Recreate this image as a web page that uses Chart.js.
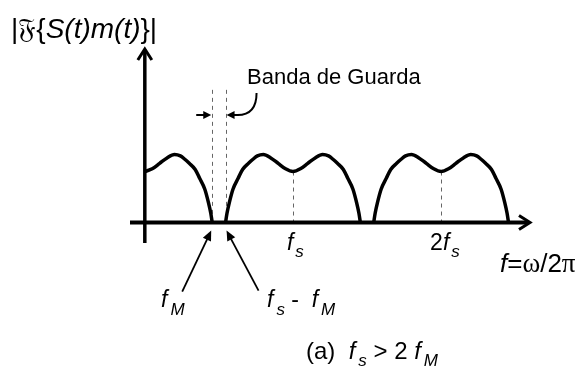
<!DOCTYPE html>
<html>
<head>
<meta charset="utf-8">
<script src="https://cdn.jsdelivr.net/npm/chart.js@4.4.1/dist/chart.umd.min.js"></script>
<style>
  html, body { margin: 0; padding: 0; background: #fff; }
  #wrap { width: 587px; height: 378px; }
</style>
</head>
<body>
<div id="wrap"><canvas id="espectro"></canvas></div>
<script>
// frequencias em unidades do eixo (fs = 10)
const fs = 10;
const fM = 4.55;
const centrosLobulos = [0, fs, 2 * fs];
// meio lobulo: distancia ao centro e altura
const lobuloOffsets = [0, 0.5, 1.0, 1.5, 2.0, 2.4, 2.7, 3.0, 3.4, 3.7, 4.05, 4.3, 4.45, 4.55];
const lobuloValores = [0.75, 0.79, 0.87, 0.95, 1.0, 0.98, 0.93, 0.87, 0.78, 0.65, 0.49, 0.29, 0.14, 0];
const eixoX = [-1, 26];
const eixoY = [-0.3, 2.55];
const alturaGuarda = 1.95;

function pontosLobulo(c) {
  const pts = [];
  if (c > 0) {
    for (let i = lobuloOffsets.length - 1; i > 0; i--) {
      pts.push({ x: c - lobuloOffsets[i], y: lobuloValores[i] });
    }
  }
  for (let i = 0; i < lobuloOffsets.length; i++) {
    pts.push({ x: c + lobuloOffsets[i], y: lobuloValores[i] });
  }
  return pts;
}

function textoRico(ctx, x, y, partes) {
  for (const p of partes) {
    ctx.font = (p.i ? 'italic ' : '') + p.s + 'px ' + (p.serif ? '"Liberation Serif", serif' : '"Liberation Sans", Arial, sans-serif');
    ctx.fillText(p.t, x, y + (p.dy || 0));
    x += ctx.measureText(p.t).width + (p.gap || 0);
  }
}

function seta(ctx, x0, y0, x1, y1, tam, larg) {
  const ang = Math.atan2(y1 - y0, x1 - x0);
  ctx.beginPath();
  ctx.moveTo(x0, y0);
  ctx.lineTo(x1 - Math.cos(ang) * tam * 0.8, y1 - Math.sin(ang) * tam * 0.8);
  ctx.stroke();
  ctx.beginPath();
  ctx.moveTo(x1, y1);
  ctx.lineTo(x1 - Math.cos(ang) * tam - Math.sin(ang) * larg, y1 - Math.sin(ang) * tam + Math.cos(ang) * larg);
  ctx.lineTo(x1 - Math.cos(ang) * tam + Math.sin(ang) * larg, y1 - Math.sin(ang) * tam - Math.cos(ang) * larg);
  ctx.closePath();
  ctx.fill();
}

const desenhos = {
  id: 'desenhos',
  beforeDatasetsDraw(chart) {
    const ctx = chart.ctx;
    const sx = chart.scales.x, sy = chart.scales.y;
    ctx.save();
    ctx.strokeStyle = '#666';
    ctx.lineWidth = 1;
    ctx.setLineDash([4, 4]);
    [fM, fs - fM].forEach(f => {
      ctx.beginPath();
      ctx.moveTo(Math.round(sx.getPixelForValue(f)) + 0.5, sy.getPixelForValue(alturaGuarda));
      ctx.lineTo(Math.round(sx.getPixelForValue(f)) + 0.5, sy.getPixelForValue(0));
      ctx.stroke();
    });
    [fs, 2 * fs].forEach(f => {
      ctx.beginPath();
      ctx.moveTo(Math.round(sx.getPixelForValue(f)) + 0.5, sy.getPixelForValue(lobuloValores[0]));
      ctx.lineTo(Math.round(sx.getPixelForValue(f)) + 0.5, sy.getPixelForValue(0));
      ctx.stroke();
    });
    ctx.restore();
  },
  afterDatasetsDraw(chart) {
    const ctx = chart.ctx;
    const sx = chart.scales.x, sy = chart.scales.y;
    const x0 = sx.getPixelForValue(0), y0 = sy.getPixelForValue(0);
    const xFim = sx.getPixelForValue(eixoX[1]), yTopo = sy.getPixelForValue(eixoY[1]);
    ctx.save();
    ctx.strokeStyle = '#000';
    ctx.fillStyle = '#000';
    ctx.lineCap = 'butt';

    // eixos
    ctx.lineWidth = 4;
    ctx.beginPath();
    ctx.moveTo(sx.getPixelForValue(eixoX[0]), y0);
    ctx.lineTo(xFim - 1, y0);
    ctx.stroke();
    ctx.lineWidth = 3.5;
    ctx.beginPath();
    ctx.moveTo(x0, sy.getPixelForValue(eixoY[0]));
    ctx.lineTo(x0, yTopo + 1);
    ctx.stroke();
    ctx.lineWidth = 3;
    ctx.lineJoin = 'miter';
    ctx.beginPath();
    ctx.moveTo(xFim - 11, y0 - 7);
    ctx.lineTo(xFim, y0);
    ctx.lineTo(xFim - 11, y0 + 7);
    ctx.stroke();
    ctx.beginPath();
    ctx.moveTo(x0 - 7, yTopo + 11);
    ctx.lineTo(x0, yTopo);
    ctx.lineTo(x0 + 7, yTopo + 11);
    ctx.stroke();

    // banda de guarda
    const xg1 = sx.getPixelForValue(fM), xg2 = sx.getPixelForValue(fs - fM);
    const yg = 115;
    ctx.lineWidth = 2;
    seta(ctx, xg1 - 16, yg, xg1 - 1, yg, 8, 4);
    ctx.beginPath();
    ctx.moveTo(xg2 + 31, yg - 22);
    ctx.quadraticCurveTo(xg2 + 31, yg, xg2 + 12, yg);
    ctx.stroke();
    seta(ctx, xg2 + 13, yg, xg2 + 1, yg, 8, 4);

    // setas para fM e fs - fM
    ctx.lineWidth = 1.8;
    seta(ctx, xg1 - 30, y0 + 69, xg1 - 1, y0 + 8, 10, 4.5);
    seta(ctx, xg2 + 33, y0 + 68, xg2 + 1, y0 + 8, 10, 4.5);

    // textos
    ctx.textBaseline = 'alphabetic';
    textoRico(ctx, 11, 38, [
      { t: '|', s: 28 }, { t: '\u{1D509}', s: 28 }, { t: '{', s: 28 },
      { t: 'S(t)m(t)', s: 28, i: true }, { t: '}|', s: 28 }
    ]);
    textoRico(ctx, 247, 84, [{ t: 'Banda de Guarda', s: 22 }]);

    const xfs = sx.getPixelForValue(fs), x2fs = sx.getPixelForValue(2 * fs);
    textoRico(ctx, xfs - 6, y0 + 27, [{ t: 'f', s: 23, i: true, gap: 2 }, { t: 's', s: 17, i: true, dy: 7 }]);
    textoRico(ctx, x2fs - 11, y0 + 27, [{ t: '2', s: 23 }, { t: 'f', s: 23, i: true, gap: 2 }, { t: 's', s: 17, i: true, dy: 7 }]);
    textoRico(ctx, 500, 272, [
      { t: 'f', s: 26, i: true }, { t: '=', s: 26 }, { t: 'ω', s: 27, serif: true },
      { t: '/2', s: 26 }, { t: 'π', s: 27, serif: true }
    ]);
    textoRico(ctx, 161, 307, [{ t: 'f', s: 23, i: true, gap: 3 }, { t: 'M', s: 17, i: true, dy: 8 }]);
    textoRico(ctx, 267, 307, [
      { t: 'f', s: 23, i: true, gap: 3 }, { t: 's', s: 17, i: true, dy: 8 },
      { t: ' -  ', s: 23 }, { t: 'f', s: 23, i: true, gap: 3 }, { t: 'M', s: 17, i: true, dy: 8 }
    ]);
    textoRico(ctx, 306, 359, [
      { t: '(a)  ', s: 24 }, { t: 'f', s: 24, i: true, gap: 3 }, { t: 's', s: 17, i: true, dy: 7 },
      { t: ' > 2 ', s: 24 }, { t: 'f', s: 24, i: true, gap: 3 }, { t: 'M', s: 17, i: true, dy: 7 }
    ]);
    ctx.restore();
  }
};

new Chart(document.getElementById('espectro'), {
  type: 'scatter',
  data: {
    datasets: centrosLobulos.map((c, k) => ({
      label: 'lobulo ' + k,
      data: pontosLobulo(c),
      showLine: true,
      borderColor: '#000',
      borderWidth: 3.5,
      pointRadius: 0,
      cubicInterpolationMode: 'monotone',
      fill: false
    }))
  },
  options: {
    responsive: true,
    maintainAspectRatio: false,
    animation: false,
    layout: { padding: { left: 130, right: 57, top: 49, bottom: 135 } },
    plugins: { legend: { display: false }, tooltip: { enabled: false } },
    scales: {
      x: { type: 'linear', min: eixoX[0], max: eixoX[1], display: false },
      y: { type: 'linear', min: eixoY[0], max: eixoY[1], display: false }
    }
  },
  plugins: [desenhos]
});
</script>
</body>
</html>
